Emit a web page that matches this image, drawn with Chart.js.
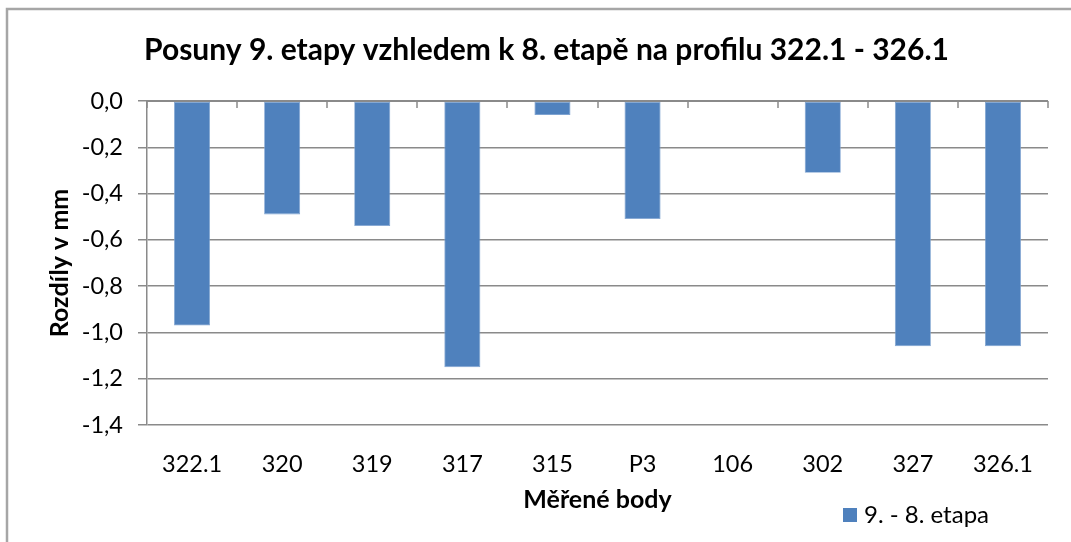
<!DOCTYPE html>
<html>
<head>
<meta charset="utf-8">
<script src="https://cdn.jsdelivr.net/npm/chart.js@4/dist/chart.umd.min.js"></script>
<style>
  html, body { margin: 0; padding: 0; background: #ffffff; }
  #wrap { width: 1071px; height: 542px; }
</style>
</head>
<body>
<div id="wrap"><canvas id="c" width="1071" height="542"></canvas></div>
<script>
const titleText = 'Posuny 9. etapy vzhledem k 8. etapě na profilu 322.1 - 326.1';
const xTitle = 'Měřené body';
const yTitle = 'Rozdíly v mm';
const seriesName = '9. - 8. etapa';
const categories = ['322.1', '320', '319', '317', '315', 'P3', '106', '302', '327', '326.1'];
const values = [-0.97, -0.49, -0.54, -1.15, -0.06, -0.51, 0, -0.31, -1.06, -1.06];
const yMin = -1.4, yMax = 0, yStep = 0.2;

const FONT = 'Lato, "Open Sans", "Liberation Sans", sans-serif';
const GRID = '#8a8a8a';
const BAR = '#4F81BD';

const decor = {
  id: 'decor',
  beforeDraw(chart) {
    const ctx = chart.ctx;
    ctx.save();
    ctx.fillStyle = '#ffffff';
    ctx.fillRect(0, 0, chart.width, chart.height);
    ctx.strokeStyle = '#a6a6a6';
    ctx.lineWidth = 2.5;
    ctx.beginPath();
    ctx.moveTo(7, chart.height);
    ctx.lineTo(7, 9);
    ctx.lineTo(chart.width, 9);
    ctx.stroke();
    ctx.restore();
  },
  afterDraw(chart) {
    const ctx = chart.ctx;
    const xs = chart.scales.x, ys = chart.scales.y;
    const y0 = ys.getPixelForValue(0);
    const n = categories.length;
    const half = (xs.getPixelForValue(1) - xs.getPixelForValue(0)) / 2;
    ctx.save();
    ctx.strokeStyle = GRID;
    ctx.lineWidth = 1.5;
    for (let i = 0; i <= n; i++) {
      const x = Math.round(xs.getPixelForValue(Math.min(i, n - 1)) + (i < n ? -half : half));
      ctx.beginPath();
      ctx.moveTo(x, y0);
      ctx.lineTo(x, y0 + 7);
      ctx.stroke();
    }
    ctx.lineWidth = 2;
    ctx.beginPath();
    ctx.moveTo(xs.left, y0);
    ctx.lineTo(xs.right, y0);
    ctx.stroke();
    const ds = chart.data.datasets[0];
    ctx.fillStyle = ds.backgroundColor;
    ctx.fillRect(843, 508, 14, 14);
    ctx.fillStyle = '#000000';
    ctx.font = '24px ' + FONT;
    ctx.textBaseline = 'alphabetic';
    ctx.textAlign = 'left';
    ctx.fillText(ds.label, 864, 523);
    ctx.restore();
  }
};

new Chart(document.getElementById('c'), {
  type: 'bar',
  data: {
    labels: categories,
    datasets: [{
      label: seriesName,
      data: values,
      backgroundColor: BAR,
      borderColor: '#7ea3d1',
      borderWidth: 0.8,
      borderSkipped: false,
      barPercentage: 1.0,
      categoryPercentage: 0.4
    }]
  },
  options: {
    responsive: false,
    animation: false,
    devicePixelRatio: 1,
    layout: { padding: { left: 45, right: 23, top: 0, bottom: 0 } },
    plugins: {
      legend: { display: false },
      tooltip: { enabled: false },
      title: {
        display: true,
        text: titleText,
        color: '#000000',
        font: { family: FONT, size: 30, weight: 'bold' },
        padding: { top: 32, bottom: 33 }
      }
    },
    scales: {
      x: {
        position: 'bottom',
        grid: { display: false, drawTicks: false },
        border: { display: false },
        ticks: { color: '#000000', font: { family: FONT, size: 23.5 }, padding: 25, maxRotation: 0 },
        title: {
          display: true,
          text: xTitle,
          color: '#000000',
          font: { family: FONT, size: 25, weight: 'bold' },
          padding: { top: 4, bottom: 27 }
        },
        afterFit(scale) { scale.height = 117; }
      },
      y: {
        min: yMin,
        max: yMax,
        grid: { color: GRID, lineWidth: 1.5, drawTicks: true, tickLength: 9, tickColor: GRID },
        border: { display: true, color: GRID, width: 1.5 },
        ticks: {
          stepSize: yStep,
          color: '#000000',
          font: { family: FONT, size: 23.5 },
          padding: 15,
          callback: (v) => v.toFixed(1).replace('.', ',')
        },
        title: {
          display: true,
          text: yTitle,
          color: '#000000',
          font: { family: FONT, size: 25, weight: 'bold' },
          padding: { top: 0, bottom: 4 }
        },
        afterFit(scale) { scale.width = 102; }
      }
    }
  },
  plugins: [decor]
});
</script>
</body>
</html>
